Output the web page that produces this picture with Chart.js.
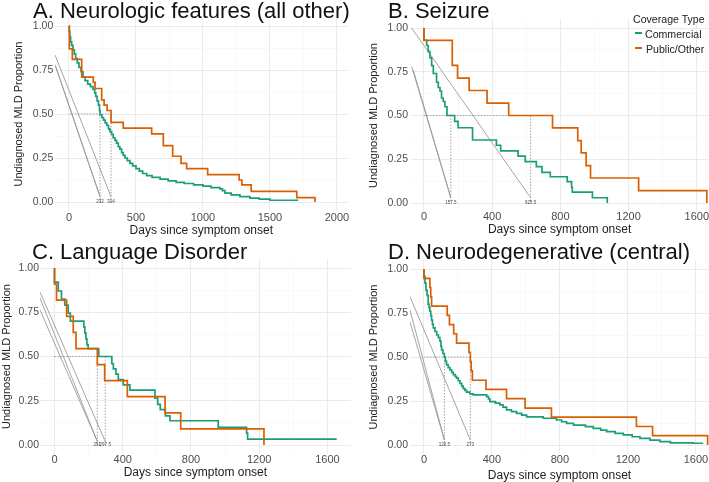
<!DOCTYPE html>
<html><head><meta charset="utf-8">
<script src="https://cdn.jsdelivr.net/npm/chart.js@4.4.1/dist/chart.umd.min.js"></script>
<style>
html,body{margin:0;padding:0;background:#fff;}
body{width:709px;height:482px;position:relative;overflow:hidden;font-family:"Liberation Sans",Arial,sans-serif;}
canvas{position:absolute;}
.ttl{position:absolute;font-size:22px;line-height:22px;color:#111;white-space:nowrap;}
.lg{position:absolute;font-size:10.6px;line-height:11px;color:#222;white-space:nowrap;}
.key{position:absolute;width:7px;height:2px;}
</style></head><body>
<canvas id="cA" width="355" height="240" style="left:0;top:0"></canvas>
<canvas id="cB" width="349" height="240" style="left:360px;top:0"></canvas>
<canvas id="cC" width="355" height="242" style="left:0;top:240px"></canvas>
<canvas id="cD" width="349" height="242" style="left:360px;top:240px"></canvas>
<div class="ttl" style="left:33px;top:0">A. Neurologic features (all other)</div>
<div class="ttl" style="left:388px;top:0">B. Seizure</div>
<div class="ttl" style="left:32px;top:241px">C. Language Disorder</div>
<div class="ttl" style="left:388px;top:241px">D. Neurodegenerative (central)</div>
<div class="lg" style="left:633px;top:14px">Coverage Type</div>
<div class="key" style="left:635px;top:32px;background:#1b9e77"></div>
<div class="lg" style="left:645px;top:28.5px">Commercial</div>
<div class="key" style="left:635px;top:47px;background:#d95f02"></div>
<div class="lg" style="left:646px;top:43.5px">Public/Other</div>
<script>
// ---------- DATA ----------
const seriesNames = ['Commercial', 'Public/Other'];
const yTickLabels = [0, 0.25, 0.5, 0.75, 1];
const xTicksA = [0, 500, 1000, 1500, 2000];
const xTicksBCD = [0, 400, 800, 1200, 1600];

// Panel A: Neurologic features (all other)
const A_commercial = [[0,1],[1,0.97],[6,0.94],[12,0.91],[20,0.89],[30,0.865],[40,0.84],[50,0.815],[62,0.79],[75,0.765],[90,0.74],[105,0.71],[120,0.69],[140,0.67],[160,0.655],[180,0.64],[192,0.62],[200,0.6],[210,0.575],[220,0.55],[228,0.52],[232,0.495],[245,0.48],[258,0.465],[270,0.45],[282,0.435],[295,0.415],[306,0.4],[318,0.385],[330,0.365],[343,0.35],[355,0.335],[368,0.315],[380,0.3],[393,0.28],[405,0.265],[418,0.25],[435,0.235],[455,0.22],[475,0.205],[500,0.19],[525,0.175],[550,0.162],[580,0.15],[620,0.14],[680,0.13],[740,0.12],[800,0.112],[860,0.105],[930,0.097],[1000,0.09],[1060,0.082],[1127,0.075],[1145,0.065],[1164,0.05],[1210,0.04],[1276,0.03],[1350,0.022],[1420,0.016],[1500,0.01],[1711,0.01]];
const A_public = [[0,1],[3,0.87],[25,0.81],[95,0.71],[182,0.68],[195,0.645],[244,0.58],[262,0.55],[285,0.52],[314,0.452],[405,0.42],[617,0.387],[704,0.32],[774,0.26],[836,0.22],[878,0.19],[1035,0.155],[1270,0.125],[1290,0.097],[1360,0.06],[1700,0.025],[1836,0]];
const A_medians = [232, 314];
const A_medianLabels = ['232', '314'];
const A_leaders = [[[-104,0.835],[314,0.03]], [[-104,0.78],[232,0.03]], [[-98,0.768],[232,0.03]]];

// Panel B: Seizure
const B_commercial = [[0,1],[0,0.93],[16,0.9],[25,0.865],[35,0.83],[45,0.785],[55,0.74],[74,0.69],[84,0.66],[94,0.64],[103,0.6],[113,0.58],[123,0.55],[135,0.5],[180,0.466],[200,0.43],[285,0.36],[425,0.33],[450,0.298],[552,0.268],[594,0.236],[659,0.208],[692,0.175],[741,0.15],[840,0.122],[866,0.09],[870,0.062],[988,0.03],[1075,0]];
const B_public = [[0,1],[0,0.929],[166,0.786],[197,0.714],[265,0.643],[370,0.571],[497,0.5],[754,0.429],[902,0.357],[922,0.286],[951,0.214],[977,0.143],[1259,0.071],[1659,0]];
const B_medians = [157.5, 625.5];
const B_medianLabels = ['157.5', '625.5'];
const B_leaders = [[[-72,1.0],[625.5,0.03]], [[-72,0.779],[157.5,0.03]], [[-63,0.76],[157.5,0.03]]];

// Panel C: Language Disorder
const C_commercial = [[0,1],[0,0.92],[22,0.87],[41,0.825],[61,0.79],[80,0.745],[93,0.7],[172,0.667],[178,0.633],[184,0.6],[190,0.567],[197,0.545],[259,0.5],[336,0.46],[345,0.43],[360,0.4],[374,0.37],[403,0.34],[442,0.31],[589,0.265],[605,0.23],[620,0.2],[650,0.165],[677,0.137],[960,0.1],[1126,0.067],[1132,0.033],[1654,0.033]];
const C_public = [[0,1],[0,0.909],[12,0.818],[71,0.727],[110,0.636],[126,0.545],[251,0.4545],[294,0.364],[427,0.273],[648,0.182],[740,0.091],[1228,0]];
const C_medians = [251, 297.5];
const C_medianLabels = ['251', '297.5'];
const C_leaders = [[[-85,0.864],[297.5,0.02]], [[-85,0.83],[251,0.02]], [[-85,0.763],[251,0.02]]];

// Panel D: Neurodegenerative (central)
const D_commercial = [[0,1],[0,0.96],[6,0.92],[12,0.88],[18,0.85],[25,0.8],[30,0.78],[35,0.76],[40,0.735],[45,0.71],[50,0.685],[55,0.665],[65,0.645],[75,0.625],[85,0.61],[94,0.59],[100,0.56],[104,0.54],[112,0.52],[120,0.5],[126,0.475],[133,0.455],[143,0.44],[153,0.427],[163,0.413],[173,0.4],[183,0.39],[192,0.38],[202,0.365],[212,0.35],[222,0.335],[231,0.32],[241,0.31],[251,0.3],[270,0.29],[290,0.285],[369,0.275],[380,0.262],[388,0.247],[420,0.238],[447,0.228],[465,0.215],[486,0.2],[515,0.19],[545,0.18],[575,0.17],[604,0.16],[702,0.152],[780,0.142],[810,0.132],[839,0.123],[880,0.113],[950,0.104],[996,0.095],[1040,0.085],[1075,0.076],[1125,0.066],[1173,0.057],[1225,0.047],[1271,0.038],[1330,0.028],[1388,0.019],[1450,0.012],[1584,0.01],[1643,0.01]];
const D_public = [[0,1],[0,0.947],[35,0.895],[40,0.842],[45,0.789],[137,0.737],[150,0.684],[175,0.632],[192,0.579],[265,0.526],[273,0.474],[278,0.421],[285,0.368],[365,0.316],[486,0.263],[595,0.21],[750,0.158],[1250,0.105],[1345,0.053],[1669,0]];
const D_medians = [120.5, 273];
const D_medianLabels = ['120.5', '273'];
const D_leaders = [[[-82,0.843],[273,0.028]], [[-82,0.767],[120.5,0.028]], [[-82,0.70],[120.5,0.028]]];

// ---------- DRAWING ----------
const GREEN = '#1b9e77', ORANGE = '#d95f02';
const FONT = '"Liberation Sans", Arial, sans-serif';
const toXY = arr => arr.map(p => ({x: p[0], y: p[1]}));
const near = (arr, v) => arr.some(m => Math.abs(m - v) < 1e-7);
const yMinor = [0.125, 0.375, 0.625, 0.875];

function makePanel(id, P) {
  const xMajor = P.xMajor;
  const step = xMajor[1] - xMajor[0];
  const xMinor = [];
  for (let v = xMajor[0] - step / 2; v <= P.xMax; v += step) if (v >= P.xMin) xMinor.push(v);
  const xAll = xMajor.filter(v => v >= P.xMin && v <= P.xMax).concat(xMinor).sort((a, b) => a - b);
  const yAll = yTickLabels.concat(yMinor).sort((a, b) => a - b);
  const line = {pointRadius: 0, pointHoverRadius: 0, fill: false, tension: 0};
  const datasets = [
    Object.assign({label: seriesNames[1], data: toXY(P.pub), borderColor: ORANGE, borderWidth: 1.7, stepped: true, order: 1}, line),
    Object.assign({label: seriesNames[0], data: toXY(P.com), borderColor: GREEN, borderWidth: 1.7, stepped: true, order: 2}, line)
  ];
  const mMax = Math.max.apply(null, P.medians);
  datasets.push(Object.assign({data: [{x: 0, y: 0.5}, {x: mMax, y: 0.5}], borderColor: '#8c8c8c', borderWidth: 0.8, borderDash: [1.5, 1.5], order: 3}, line));
  P.medians.forEach(m => datasets.push(Object.assign({data: [{x: m, y: 0.5}, {x: m, y: 0}], borderColor: '#8c8c8c', borderWidth: 0.8, borderDash: [1.5, 1.5], order: 3}, line)));
  P.leaders.forEach(s => datasets.push(Object.assign({data: toXY(s), borderColor: '#9a9a9a', borderWidth: 0.9, order: 4}, line)));

  const medianText = {
    id: 'medianText',
    afterDatasetsDraw(chart) {
      const c = chart.ctx, xs = chart.scales.x, ys = chart.scales.y;
      c.save();
      c.font = '4.5px ' + FONT;
      c.fillStyle = '#444';
      c.textAlign = 'center';
      c.textBaseline = 'middle';
      P.medians.forEach((m, i) => c.fillText(P.medianLabels[i], xs.getPixelForValue(m), ys.getPixelForValue(0) - 0.5));
      c.restore();
    }
  };
  const gridColor = (arrMaj) => ctx => (ctx.tick && near(arrMaj, ctx.tick.value)) ? '#ebebeb' : '#f5f5f5';
  const gridWidth = (arrMaj) => ctx => (ctx.tick && near(arrMaj, ctx.tick.value)) ? 1 : 0.6;

  new Chart(document.getElementById(id), {
    type: 'line',
    data: {datasets},
    plugins: [medianText],
    options: {
      responsive: false, animation: false, events: [],
      layout: {autoPadding: false, padding: {left: 0, top: P.top, right: P.right, bottom: 0}},
      plugins: {legend: {display: false}, tooltip: {enabled: false}},
      scales: {
        x: {
          type: 'linear', min: P.xMin, max: P.xMax,
          afterBuildTicks: s => { s.ticks = xAll.map(v => ({value: v})); },
          afterFit: s => { s.height = P.xAxisH; },
          ticks: {autoSkip: false, maxRotation: 0, padding: P.xTickPad, color: '#4d4d4d',
                  font: {family: FONT, size: 11, lineHeight: 1},
                  callback: v => near(xMajor, v) ? String(v) : ''},
          grid: {drawTicks: false, color: gridColor(xMajor), lineWidth: gridWidth(xMajor)},
          border: {display: false},
          title: {display: true, text: 'Days since symptom onset', color: '#222',
                  font: {family: FONT, size: 12, lineHeight: 1}, padding: {top: 0, bottom: P.xTitlePad}}
        },
        y: {
          type: 'linear', min: -0.05, max: 1.05,
          afterBuildTicks: s => { s.ticks = yAll.map(v => ({value: v})); },
          afterFit: s => { s.width = P.yAxisW; },
          ticks: {autoSkip: false, padding: P.yTickPad, color: '#4d4d4d',
                  font: {family: FONT, size: 10.5, lineHeight: 1},
                  callback: v => near(yTickLabels, v) ? v.toFixed(2) : ''},
          grid: {drawTicks: false, color: gridColor(yTickLabels), lineWidth: gridWidth(yTickLabels)},
          border: {display: false},
          title: {display: true, text: 'Undiagnosed MLD Proportion', color: '#222',
                  font: {family: FONT, size: 11, lineHeight: 1}, padding: {top: P.yTitlePad, bottom: 0}}
        }
      }
    }
  });
}

makePanel('cA', {com: A_commercial, pub: A_public, medians: A_medians, medianLabels: A_medianLabels, leaders: A_leaders,
  xMajor: xTicksA, xMin: -105, xMax: 2080, top: 17.2, right: 7.3, xAxisH: 29.2, yAxisW: 54.9,
  xTickPad: 1.7, xTitlePad: 3, yTickPad: 1.6, yTitlePad: 13.5});
makePanel('cB', {com: B_commercial, pub: B_public, medians: B_medians, medianLabels: B_medianLabels, leaders: B_leaders,
  xMajor: xTicksBCD, xMin: -76, xMax: 1667, top: 19.25, right: 0, xAxisH: 28.25, yAxisW: 51,
  xTickPad: 0, xTitlePad: 4, yTickPad: 3, yTitlePad: 8.5});
makePanel('cC', {com: C_commercial, pub: C_public, medians: C_medians, medianLabels: C_medianLabels, leaders: C_leaders,
  xMajor: xTicksBCD, xMin: -85, xMax: 1737, top: 19.15, right: 4.2, xAxisH: 28.15, yAxisW: 40,
  xTickPad: 0.7, xTitlePad: 3.7, yTickPad: 1, yTitlePad: 1.2});
makePanel('cD', {com: D_commercial, pub: D_public, medians: D_medians, medianLabels: D_medianLabels, leaders: D_leaders,
  xMajor: xTicksBCD, xMin: -82, xMax: 1677, top: 20.2, right: 0, xAxisH: 28.2, yAxisW: 50,
  xTickPad: 0.7, xTitlePad: 0, yTickPad: 2, yTitlePad: 8.5});
</script>
</body></html>
